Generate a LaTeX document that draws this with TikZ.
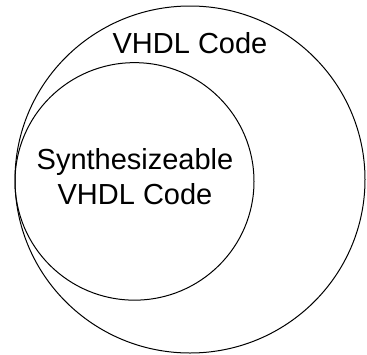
\documentclass[tikz,border=0pt]{standalone}
\usepackage{fontspec}
\setmainfont{Liberation Sans}
\usetikzlibrary{shapes.geometric}
\begin{document}
\begin{tikzpicture}[x=1pt,y=1pt,
  setring/.style={draw=black, line width=1pt, ellipse, inner sep=0pt},
  lbl/.style={font=\fontsize{29}{35}\selectfont, inner sep=0pt, align=center}]
\useasboundingbox (0,0) rectangle (367,-354);
\node[setring, minimum width=350pt, minimum height=347pt] (outer) at (190,-179.5) {};
\node[setring, minimum width=239pt, minimum height=237.5pt] (inner) at (134.5,-181.4) {};
\node[lbl, anchor=base] (vhdl) at (190,-53) {VHDL Code};
\node[lbl] (synth) at (135,-177) {Synthesizeable\\VHDL Code};
\end{tikzpicture}
\end{document}
